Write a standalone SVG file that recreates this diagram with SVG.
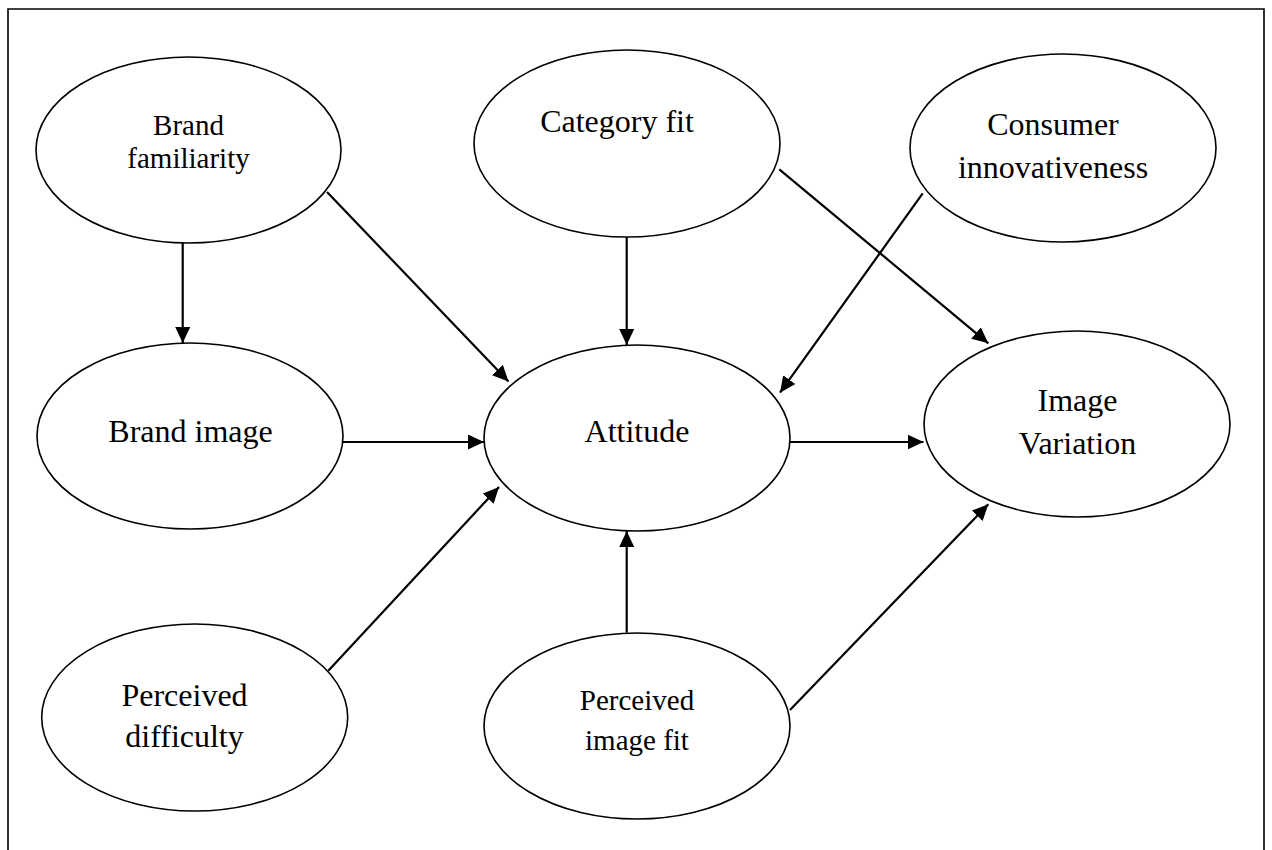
<svg xmlns="http://www.w3.org/2000/svg" width="1272" height="850" viewBox="0 0 1272 850">
  <style>
    .frame { fill: none; stroke: #000; stroke-width: 1.6; }
    .node ellipse { fill: #fff; stroke: #000; stroke-width: 1.6; }
    .node text { font-family: "Liberation Serif", "Times New Roman", serif; font-size: 32px; fill: #000; text-anchor: middle; }
    .node text.sm { font-size: 29px; }
    .edges line { stroke: #000; stroke-width: 2.2; marker-end: url(#arrow); }
  </style>
  <defs>
    <marker id="arrow" markerUnits="userSpaceOnUse" markerWidth="17" markerHeight="16" refX="16" refY="7.5" orient="auto">
      <path d="M0,0 L16,7.5 L0,15 z" fill="#000"/>
    </marker>
  </defs>

  <rect width="1272" height="850" fill="#fff"/>
  <!-- outer frame, open at the bottom edge of the page -->
  <path class="frame" d="M8,860 V9 H1264 V860"/>

  <g id="node-brand-familiarity" class="node">
    <ellipse cx="188.5" cy="150" rx="152.5" ry="93"/>
    <text class="sm" x="188.5" y="135">Brand</text>
    <text class="sm" x="188.5" y="168">familiarity</text>
  </g>
  <g id="node-category-fit" class="node">
    <ellipse cx="627" cy="143.5" rx="153" ry="93.5"/>
    <text x="617" y="132">Category fit</text>
  </g>
  <g id="node-consumer-innovativeness" class="node">
    <ellipse cx="1063" cy="148" rx="153" ry="94"/>
    <text x="1053" y="135">Consumer</text>
    <text x="1053" y="178">innovativeness</text>
  </g>
  <g id="node-brand-image" class="node">
    <ellipse cx="190" cy="436" rx="153" ry="93"/>
    <text x="190.5" y="442">Brand image</text>
  </g>
  <g id="node-attitude" class="node">
    <ellipse cx="637" cy="438" rx="153" ry="93"/>
    <text x="637" y="442">Attitude</text>
  </g>
  <g id="node-image-variation" class="node">
    <ellipse cx="1077" cy="424" rx="153" ry="93"/>
    <text x="1077.5" y="411">Image</text>
    <text x="1077.5" y="454">Variation</text>
  </g>
  <g id="node-perceived-difficulty" class="node">
    <ellipse cx="194.7" cy="717.5" rx="153" ry="93.5"/>
    <text x="184.5" y="706">Perceived</text>
    <text x="184.5" y="747">difficulty</text>
  </g>
  <g id="node-perceived-image-fit" class="node">
    <ellipse cx="637" cy="726" rx="153" ry="93"/>
    <text class="sm" x="637" y="710">Perceived</text>
    <text class="sm" x="637" y="750">image fit</text>
  </g>

  <g id="connectors" class="edges">
    <line x1="182.7" y1="243" x2="182.7" y2="343"/>
    <line x1="327" y1="192" x2="508.5" y2="381.5"/>
    <line x1="626.7" y1="237" x2="626.7" y2="345"/>
    <line x1="779.3" y1="169.3" x2="988.3" y2="343.3"/>
    <line x1="922.7" y1="193.3" x2="780" y2="392.7"/>
    <line x1="343" y1="442" x2="484" y2="442"/>
    <line x1="790" y1="442" x2="923.5" y2="442"/>
    <line x1="328.3" y1="670.7" x2="499" y2="487"/>
    <line x1="626.7" y1="632.7" x2="626.7" y2="531"/>
    <line x1="790" y1="710" x2="988.3" y2="504.3"/>
  </g>
</svg>
